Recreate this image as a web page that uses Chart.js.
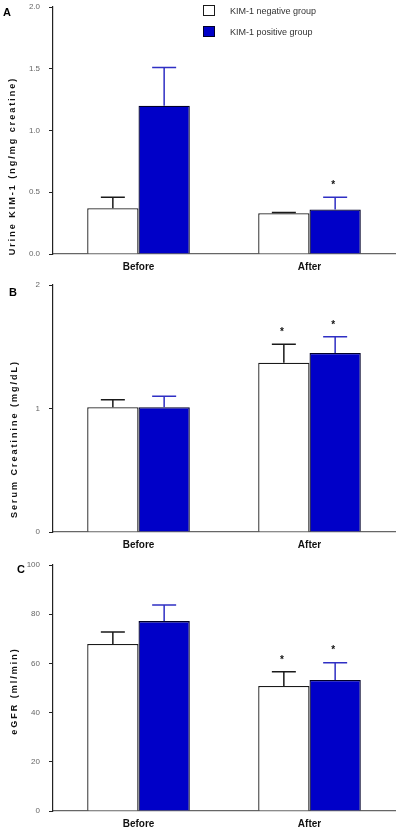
<!DOCTYPE html>
<html><head><meta charset="utf-8">
<script src="https://cdn.jsdelivr.net/npm/chart.js@4.4.1/dist/chart.umd.min.js"></script>
<style>
html,body{margin:0;padding:0;background:#fff;}
#wrap{position:relative;width:400px;height:831px;overflow:hidden;}
.p{position:absolute;left:0;width:400px;}
</style></head><body>
<div id="wrap">
<div class="p" style="top:0;height:277px"><canvas id="cA"></canvas></div>
<div class="p" style="top:277px;height:278px"><canvas id="cB"></canvas></div>
<div class="p" style="top:555px;height:276px"><canvas id="cC"></canvas></div>
</div>
<script>
// ---- data ----
const categories = ['Before', 'After'];
const seriesNames = ['KIM-1 negative group', 'KIM-1 positive group'];

// Panel A: Urine KIM-1
const kimNeg = [0.37, 0.33];
const kimNegErr = [0.09, 0.006];
const kimPos = [1.20, 0.36];
const kimPosErr = [0.31, 0.10];
const kimNegStar = [false, false];
const kimPosStar = [false, true];
const kimTicks = [0, 0.5, 1.0, 1.5, 2.0];
const kimTickLabels = ['0.0', '0.5', '1.0', '1.5', '2.0'];

// Panel B: Serum creatinine
const crNeg = [1.01, 1.37];
const crNegErr = [0.06, 0.15];
const crPos = [1.01, 1.45];
const crPosErr = [0.09, 0.13];
const crNegStar = [false, true];
const crPosStar = [false, true];
const crTicks = [0, 1, 2];
const crTickLabels = ['0', '1', '2'];

// Panel C: eGFR
const gfrNeg = [67.9, 50.8];
const gfrNegErr = [4.9, 5.8];
const gfrPos = [77.2, 53.3];
const gfrPosErr = [6.5, 7.0];
const gfrNegStar = [false, true];
const gfrPosStar = [false, true];
const gfrTicks = [0, 20, 40, 60, 80, 100];
const gfrTickLabels = ['0', '20', '40', '60', '80', '100'];

// ---- styles ----
const FONT = '"Liberation Sans", Arial, sans-serif';
const WHITE_FILL = '#ffffff', WHITE_EDGE = '#1a1a1a', WHITE_ERR = '#1a1a1a';
const BLUE_FILL = '#0000c8', BLUE_EDGE = '#00002a', BLUE_ERR = '#2f2fc4';

const errPlugin = {
  id: 'errbars',
  afterDatasetsDraw(chart) {
    const ctx = chart.ctx, y = chart.scales.y;
    chart.data.datasets.forEach((ds, di) => {
      const meta = chart.getDatasetMeta(di);
      meta.data.forEach((bar, i) => {
        const v = ds.data[i], e = ds.err[i];
        const yTop = y.getPixelForValue(v), yErr = y.getPixelForValue(v + e);
        ctx.save();
        ctx.strokeStyle = ds.errColor;
        ctx.lineWidth = 1.5;
        ctx.beginPath();
        ctx.moveTo(bar.x, yTop); ctx.lineTo(bar.x, yErr);
        ctx.moveTo(bar.x - 12, yErr); ctx.lineTo(bar.x + 12, yErr);
        ctx.stroke();
        if (ds.stars[i]) {
          ctx.fillStyle = '#111';
          ctx.font = 'bold 10px ' + FONT;
          ctx.textAlign = 'center';
          ctx.textBaseline = 'middle';
          ctx.fillText('*', bar.x - 2, yErr - 12);
        }
        ctx.restore();
      });
    });
  }
};

const decoPlugin = {
  id: 'deco',
  afterDraw(chart, args, o) {
    const ctx = chart.ctx;
    ctx.save();
    // panel letter
    ctx.fillStyle = '#000';
    ctx.font = 'bold 11px ' + FONT;
    ctx.textAlign = 'left';
    ctx.textBaseline = 'middle';
    ctx.fillText(o.letter, o.lx, o.ly);
    // y title
    ctx.save();
    ctx.translate(o.tx, o.ty);
    ctx.rotate(-Math.PI / 2);
    ctx.font = 'bold 9px ' + FONT;
    ctx.letterSpacing = o.ls || '2px';
    ctx.textAlign = 'center';
    ctx.textBaseline = 'middle';
    ctx.fillStyle = '#111';
    ctx.fillText(o.title, 0, 0);
    ctx.restore();
    // legend
    if (o.legend) {
      chart.data.datasets.forEach((ds, i) => {
        const by = 5 + i * 21;
        ctx.fillStyle = ds.backgroundColor;
        ctx.fillRect(203, by, 12, 11);
        ctx.strokeStyle = ds.borderColor;
        ctx.lineWidth = 1;
        ctx.strokeRect(203.5, by + 0.5, 11, 10);
        ctx.fillStyle = '#333';
        ctx.font = '9px ' + FONT;
        ctx.textAlign = 'left';
        ctx.textBaseline = 'middle';
        ctx.fillText(ds.label, 230, by + 7);
      });
    }
    ctx.restore();
  }
};

function makeChart(id, neg, negErr, negStar, pos, posErr, posStar, ticks, tickLabels, padTop, padBottom, deco) {
  return new Chart(document.getElementById(id), {
    type: 'bar',
    data: {
      labels: categories,
      datasets: [
        { label: seriesNames[0], data: neg, err: negErr, stars: negStar, errColor: WHITE_ERR,
          backgroundColor: WHITE_FILL, borderColor: WHITE_EDGE, borderWidth: 1.3 },
        { label: seriesNames[1], data: pos, err: posErr, stars: posStar, errColor: BLUE_ERR,
          backgroundColor: BLUE_FILL, borderColor: BLUE_EDGE, borderWidth: 1.3 }
      ]
    },
    options: {
      responsive: true,
      maintainAspectRatio: false,
      animation: false,
      events: [],
      layout: { padding: { left: 0, right: 5, top: padTop, bottom: padBottom } },
      datasets: { bar: { categoryPercentage: 0.6, barPercentage: 1.0 } },
      plugins: { legend: { display: false }, tooltip: { enabled: false }, deco: deco },
      scales: {
        x: {
          offset: true,
          grid: { display: true, drawOnChartArea: false, drawTicks: false },
          border: { display: true, color: '#666', width: 1.2 },
          ticks: { color: '#111', padding: 7, font: { family: FONT, size: 10, weight: 'bold' } },
          afterFit(s) { s.height = 20; s.paddingLeft = 0; s.paddingRight = 0; }
        },
        y: {
          min: ticks[0], max: ticks[ticks.length - 1],
          grid: { display: true, drawOnChartArea: false, drawTicks: true, tickLength: 4, color: '#222' },
          border: { display: true, color: '#222', width: 1.2 },
          afterBuildTicks(s) { s.ticks = ticks.map(v => ({ value: v })); },
          ticks: { color: '#666', padding: 9, font: { family: FONT, size: 8 },
                   callback: (v, i) => tickLabels[i] },
          afterFit(s) { s.width = 53; s.paddingTop = 0; s.paddingBottom = 0; }
        }
      }
    },
    plugins: [errPlugin, decoPlugin]
  });
}

makeChart('cA', kimNeg, kimNegErr, kimNegStar, kimPos, kimPosErr, kimPosStar, kimTicks, kimTickLabels, 7, 3,
  { letter: 'A', lx: 3, ly: 13, title: 'Urine KIM-1 (ng/mg creatine)', tx: 13, ty: 166, legend: true });
makeChart('cB', crNeg, crNegErr, crNegStar, crPos, crPosErr, crPosStar, crTicks, crTickLabels, 8, 3,
  { letter: 'B', lx: 9, ly: 16, title: 'Serum Creatinine (mg/dL)', tx: 15, ty: 162, legend: false });
makeChart('cC', gfrNeg, gfrNegErr, gfrNegStar, gfrPos, gfrPosErr, gfrPosStar, gfrTicks, gfrTickLabels, 10, 0,
  { letter: 'C', lx: 17, ly: 15, title: 'eGFR (ml/min)', tx: 15, ty: 136, legend: false });
</script>
</body></html>
